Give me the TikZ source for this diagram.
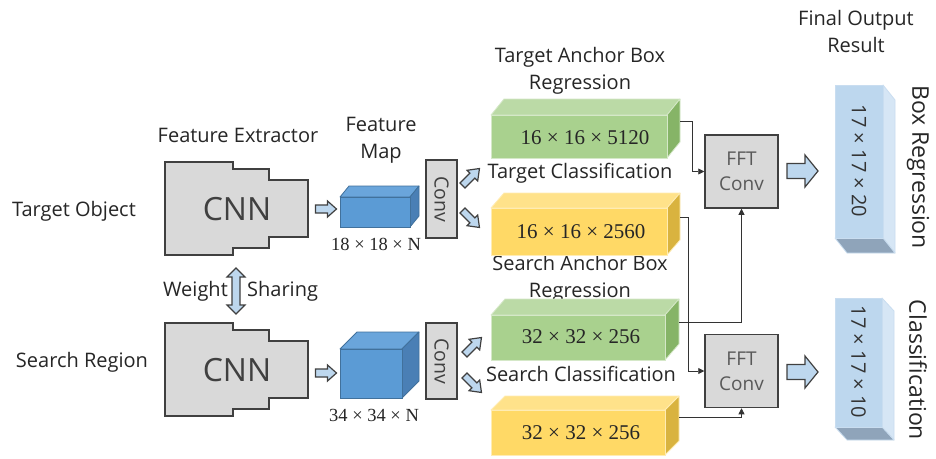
\documentclass[tikz,border=0pt]{standalone}
\usepackage{fontspec}
\newfontfamily\sans{Open Sans}
\newfontfamily\numserif{Liberation Serif}
\usetikzlibrary{arrows.meta}
\definecolor{cnnfill}{HTML}{D9D9D9}
\definecolor{edgegray}{HTML}{404040}
\definecolor{arrowfill}{HTML}{BDD7EE}
\definecolor{bluefront}{HTML}{5B9BD5}
\definecolor{bluetop}{HTML}{6AA5DB}
\definecolor{blueside}{HTML}{4A7FB5}
\definecolor{blueedge}{HTML}{41719C}
\definecolor{greenfront}{HTML}{A9D18E}
\definecolor{greentop}{HTML}{BBDAA6}
\definecolor{greenside}{HTML}{86B467}
\definecolor{greenedge}{HTML}{D5E8C8}
\definecolor{yellowfront}{HTML}{FFD966}
\definecolor{yellowtop}{HTML}{FFE28A}
\definecolor{yellowside}{HTML}{D9B33F}
\definecolor{yellowedge}{HTML}{FFECB3}
\definecolor{outfront}{HTML}{BDD7EE}
\definecolor{outside}{HTML}{D6E6F5}
\definecolor{outbottom}{HTML}{8FA4BA}
\definecolor{outedge}{HTML}{C9DDF0}
\newcommand\cuboid[7]{%
  \filldraw[fill=#7top,draw=#7edge,line width=0.8pt,line join=round] (#1,#2) -- ({#1+#5},{#2+#6}) -- ({#3+#5},{#2+#6}) -- (#3,#2) -- cycle;
  \filldraw[fill=#7side,draw=#7edge,line width=0.8pt,line join=round] (#3,#2) -- ({#3+#5},{#2+#6}) -- ({#3+#5},{#4+#6}) -- (#3,#4) -- cycle;
  \filldraw[fill=#7front,draw=#7edge,line width=0.8pt] (#1,#2) rectangle (#3,#4);}
\newcommand\outbox[6]{%
  \filldraw[fill=outside,draw=outedge,line width=0.8pt,line join=round] (#3,#2) -- ({#3+#5},{#2+#6}) -- ({#3+#5},{#4+#6}) -- (#3,#4) -- cycle;
  \filldraw[fill=outbottom,draw=outedge,line width=0.8pt,line join=round] (#1,#4) -- (#3,#4) -- ({#3+#5},{#4+#6}) -- ({#1+#5},{#4+#6}) -- cycle;
  \filldraw[fill=outfront,draw=outedge,line width=0.8pt] (#1,#2) rectangle (#3,#4);}
\newcommand\blockarrow[7]{%
  \filldraw[barrow,shift={(#1,#2)},rotate=#3] ({-#4/2},{-#6/2}) -- ({#4/2-#7},{-#6/2}) -- ({#4/2-#7},{-#5/2}) -- ({#4/2},0) -- ({#4/2-#7},{#5/2}) -- ({#4/2-#7},{#6/2}) -- ({-#4/2},{#6/2}) -- cycle;}
\newcommand\cnnpath[1]{%
  \filldraw[cnnshape,shift={(0,#1)}] (165,0) -- (233,0) -- (233,7) -- (269,7) -- (269,18) -- (308,18) -- (308,75) -- (269,75) -- (269,86) -- (233,86) -- (233,93) -- (165,93) -- cycle;}
\begin{document}
\begin{tikzpicture}[x=1pt,y=-1pt,
  txt/.style={font=\sans\fontsize{20}{27}\selectfont,text=black!85,inner sep=0,align=center},
  cnnshape/.style={fill=cnnfill,draw=edgegray,line width=1.5pt,line join=miter},
  cnntext/.style={font=\sans\fontsize{32}{32}\selectfont,text=black!75,inner sep=0},
  barrow/.style={fill=arrowfill,draw=edgegray,line width=1.2pt,line join=miter},
  dimlbl/.style={font=\numserif\fontsize{21}{24}\selectfont,text=black!85,inner sep=0},
  cubelbl/.style={font=\numserif\fontsize{18.5}{20}\selectfont,text=black!85,inner sep=0},
  convbox/.style={draw=edgegray,fill=cnnfill,line width=1.2pt,inner sep=0,font=\sans\fontsize{19.5}{20}\selectfont,text=black!75},
  fftbox/.style={draw=edgegray,fill=cnnfill,line width=1.5pt,minimum width=73pt,minimum height=73pt,inner sep=0,align=center,font=\sans\fontsize{19}{25}\selectfont,text=black!65},
  outlbl/.style={font=\sans\fontsize{20}{22}\selectfont,text=black!80,inner sep=0,rotate=-90},
  sidelbl/.style={font=\sans\fontsize{23}{25}\selectfont,text=black!85,inner sep=0,rotate=-90},
  conn/.style={line width=0.8pt,draw=black!80,-{Triangle[length=6pt,width=6pt]}}]
\useasboundingbox (0,0) rectangle (936,458);
\fill[white] (0,0) rectangle (936,458);

% titles
\node[txt] (tfinal) at (856,31) {Final Output\\Result};
\node[txt] (ttar) at (580,71) {Target Anchor Box\\Regression};
\node[txt] (tfe) at (238,135) {Feature Extractor};
\node[txt] (tfm) at (381,140) {Feature\\Map};
\node[txt] (tobj) at (74,211) {Target Object};
\node[txt] (treg) at (82,362) {Search Region};
\node[txt,anchor=east] (tw) at (228,291) {Weight};
\node[txt,anchor=west] (ts) at (247,291) {Sharing};
\node[txt] (ttc) at (580,173) {Target Classification};
\node[txt] (tsar) at (580,279) {Search Anchor Box\\Regression};
\node[txt] (tsc) at (581,374) {Search Classification};

% CNNs
\cnnpath{162}
\node[cnntext] (cnn1) at (237,209) {CNN};
\cnnpath{323}
\node[cnntext] (cnn2) at (237,370) {CNN};

% weight sharing double arrow
\filldraw[barrow] (236,268) -- (245,277) -- (240,277) -- (240,305) -- (245,305) -- (236,314) -- (227,305) -- (232,305) -- (232,277) -- (227,277) -- cycle;

% CNN -> feature maps
\blockarrow{326}{209}{0}{21}{16}{8}{9}
\blockarrow{326}{373}{0}{21}{16}{8}{9}

% feature map cubes
\cuboid{340}{197}{410}{227}{9}{-11}{blue}
\node[inner sep=0] (fm1) at (375,212) {};
\node[cubelbl] (fm1l) at (376,244) {18 × 18 × N};
\cuboid{340}{349}{402}{398}{17}{-17}{blue}
\node[inner sep=0] (fm2) at (371,373) {};
\node[cubelbl] (fm2l) at (374,415) {34 × 34 × N};

% conv boxes
\node[convbox,rotate=-90,minimum width=78pt,minimum height=31pt] (conv1) at (441.5,199) {Conv};
\node[convbox,rotate=-90,minimum width=76pt,minimum height=31pt] (conv2) at (441.5,361) {Conv};

% diagonal arrows
\blockarrow{471}{177}{45}{24}{15}{7}{10}
\blockarrow{471}{219}{-45}{24}{15}{7}{10}
\blockarrow{473}{346}{45}{24}{15}{7}{10}
\blockarrow{473}{384}{-45}{24}{15}{7}{10}

% head boxes
\cuboid{491}{115}{667}{158}{13}{-16}{green}
\node[dimlbl] (hb1) at (585,138) {16 × 16 × 5120};
\cuboid{491}{208}{667}{255}{13}{-15}{yellow}
\node[dimlbl] (hb2) at (581,232) {16 × 16 × 2560};
\cuboid{491}{315}{665}{360}{14}{-16}{green}
\node[dimlbl] (hb3) at (581,337) {32 × 32 × 256};
\cuboid{491}{410}{665}{455}{14}{-14}{yellow}
\node[dimlbl] (hb4) at (581,433) {32 × 32 × 256};

% FFT conv
\node[fftbox] (fft1) at (741.5,171.5) {FFT\\Conv};
\node[fftbox] (fft2) at (741.5,371) {FFT\\Conv};

% connectors
\coordinate (c1) at (680,121);
\coordinate (c2) at (680,217);
\coordinate (c3) at (679,322);
\coordinate (c4) at (679,417);
\draw[conn] (c1) -- (692,121) |- (fft1.west);
\draw[conn] (c2) -- (688,217) |- (fft2.west);
\draw[conn] (c3) -| (fft1.south);
\draw[conn] (c4) -| (fft2.south);

% fft -> outputs
\blockarrow{802.5}{171}{0}{31}{32}{15}{13}
\blockarrow{802.5}{372}{0}{31}{32}{15}{13}

% outputs
\outbox{835}{85}{883}{238}{12}{15}
\node[outlbl] (o1) at (859,161) {17 × 17 × 20};
\outbox{835}{298}{882}{427}{12}{13}
\node[outlbl] (o2) at (858.5,362) {17 × 17 × 10};
\node[sidelbl] (obr) at (918,167) {Box Regression};
\node[sidelbl] (ocl) at (918,370) {Classification};
\end{tikzpicture}
\end{document}
